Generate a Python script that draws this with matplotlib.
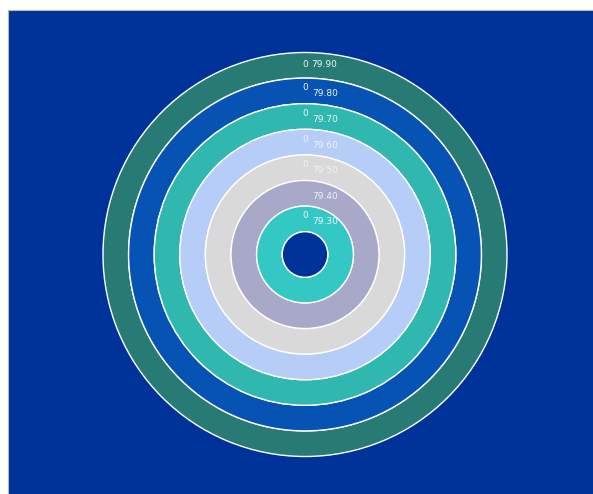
import matplotlib
matplotlib.use("Agg")
import matplotlib.pyplot as plt
from matplotlib.patches import Rectangle

# ---- data ----
values = [79.90, 79.80, 79.70, 79.60, 79.50, 79.40, 79.30]
zero_values = [0, 0, 0, 0, 0, 0, 0]
show_zero = [True, True, True, True, True, False, True]
colors = ["#287a74", "#0753b3", "#2fb7b0", "#b6cdf7", "#d9d9d9", "#a8a9c9", "#34c8c5"]
value_labels = [f"{v:.2f}" for v in values]

BG = "#003399"

fig = plt.figure(figsize=(5.93, 4.94), dpi=100, facecolor="white")
ax = fig.add_axes([8 / 593, 0, 585 / 593, 484 / 494])
ax.set_facecolor(BG)
ax.set_xlim(8, 593)
ax.set_ylim(0, 484)
ax.set_aspect("equal")
for s in ax.spines.values():
    s.set_visible(False)
ax.spines["left"].set_visible(True)
ax.spines["top"].set_visible(True)
ax.spines["left"].set_color("#b8b8b8")
ax.spines["top"].set_color("#b8b8b8")
ax.set_xticks([])
ax.set_yticks([])

cx, cy = 305, 239.5
r_outer = 202
width = 25.6

for i, (v, z, c) in enumerate(zip(values, zero_values, colors)):
    r = r_outer - i * width
    ax.pie([z, v], radius=r, center=(cx, cy), colors=[c, c], startangle=90,
           counterclock=False, frame=True,
           wedgeprops=dict(width=width, edgecolor="white", linewidth=1.0))
    mid = r - width / 2
    if i == 0:
        ax.text(cx, cy + mid + 1, "0", color="#eef4f4", fontsize=6.5,
                ha="center", va="center")
        ax.text(cx + 6, cy + mid + 1, value_labels[i], color="#eef4f4",
                fontsize=6.5, ha="left", va="center")
    else:
        if show_zero[i]:
            ax.text(cx, cy + mid + 3, "0", color="#eef4f4", fontsize=6.5,
                    ha="center", va="center")
        ax.text(cx + 7, cy + mid - 3, value_labels[i], color="#eef4f4",
                fontsize=6.5, ha="left", va="center")

# inner hole edge
ax.add_patch(plt.Circle((cx, cy), r_outer - len(values) * width, facecolor=BG,
                        edgecolor="white", linewidth=1.0))

ax.set_xlim(8, 593)
ax.set_ylim(0, 484)
ax.set_xticks([])
ax.set_yticks([])

fig.savefig("out.png", dpi=100, facecolor="white")
